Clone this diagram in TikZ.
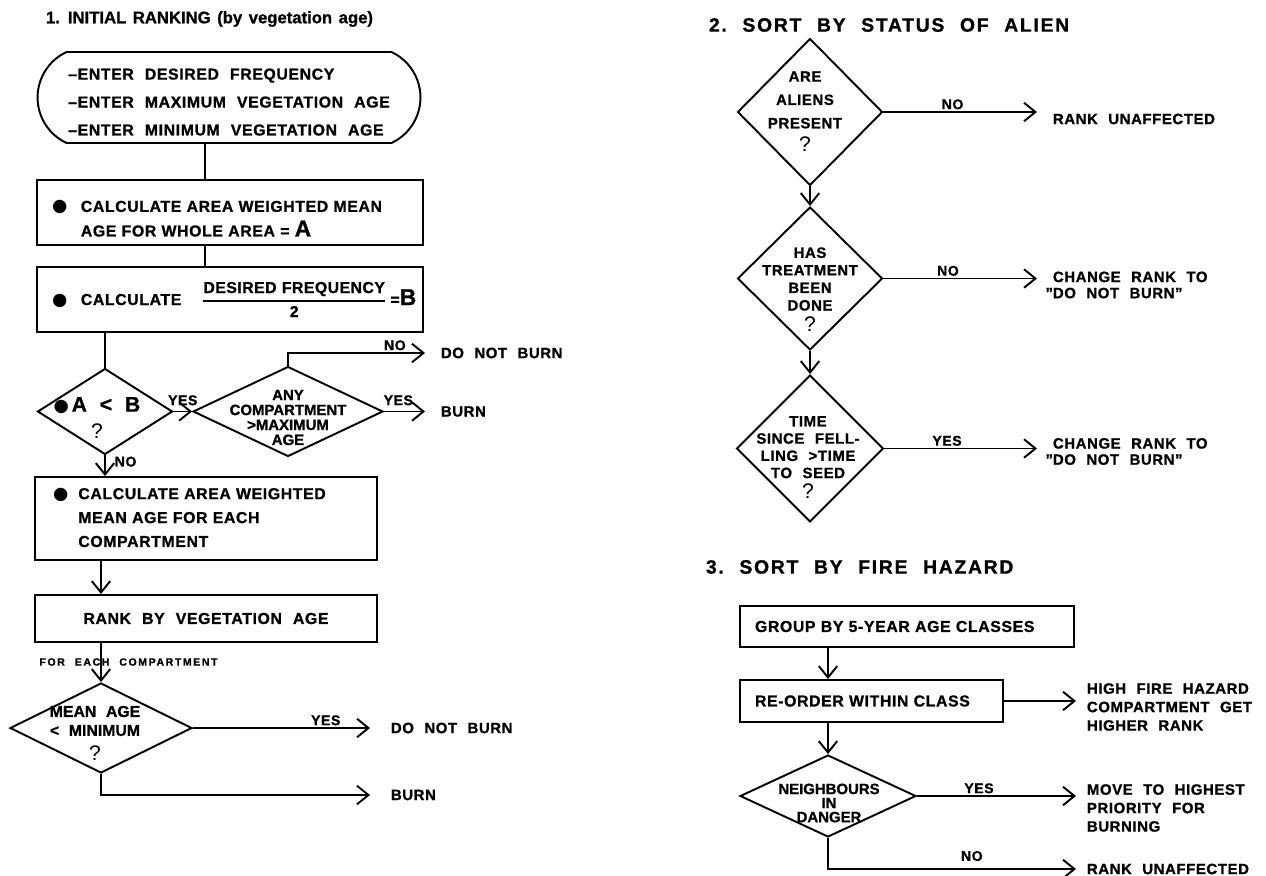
\documentclass[tikz,border=0pt]{standalone}
\usepackage{amsmath}
\usepackage{fontspec}
\setmainfont{Liberation Sans Bold}[LetterSpace=4,WordSpace=2.2,FakeBold=1]
\newfontfamily\headfont{Liberation Sans Bold}[LetterSpace=0,WordSpace=1.4,FakeBold=1]
\newfontfamily\thinfont{Liberation Sans}
\newfontfamily\symfont{DejaVu Sans}
\usetikzlibrary{arrows.meta, shapes.geometric, shapes.misc, positioning}
\newcommand{\blob}{{\symfont\fontsize{10}{10}\selectfont ●}}
\newcommand{\qmark}{{\thinfont\fontsize{12}{12}\selectfont ?}}

\begin{document}
\begin{tikzpicture}[x=0.02cm, y=-0.02cm, line width=1.1pt,
  every node/.style={font=\fontsize{9}{12.5}\selectfont},
  title/.style={anchor=west, inner sep=0pt,
    font=\fontsize{11}{13}\selectfont\addfontfeature{LetterSpace=9}},
  procbox/.style={draw, rectangle, inner xsep=0.3cm, inner ysep=0pt, align=left},
  startbox/.style={draw, rounded rectangle, rounded rectangle arc length=130,
    align=left, inner sep=0pt},
  decision/.style={draw, diamond, inner sep=0pt},
  qtext/.style={align=center, inner sep=0pt},
  lbl/.style={inner sep=1pt, font=\fontsize{8}{9}\selectfont},
  outtxt/.style={anchor=west, align=left, inner xsep=#1, inner ysep=0pt,
    font=\fontsize{8.5}{10.5}\selectfont},
  outtxt/.default=0.3cm,
  arr/.style={-{Straight Barb[length=6.5pt, width=10.5pt]}}
]
  \useasboundingbox (0,0) rectangle (1266,875);

  % 1. initial ranking
  \node[title, font=\headfont\fontsize{9.5}{12}\selectfont]
    (title1) at (45,19) {1. INITIAL\ RANKING (by vegetation age)};

  \node[startbox, minimum width=7.66cm, minimum height=1.82cm,
    font=\fontsize{9}{15.9}\selectfont] (enter) at (229,97.5)
    {\rule{0pt}{11.5pt}--ENTER DESIRED FREQUENCY\\--ENTER MAXIMUM VEGETATION AGE\\--ENTER MINIMUM VEGETATION AGE};
  \node[procbox, text width=7.12cm, minimum height=1.3cm,
    font=\fontsize{9}{14}\selectfont] (calcA) at (230,212.5)
    {\rule{0pt}{14.5pt}\blob\hspace{0.27cm}CALCULATE AREA WEIGHTED MEAN\\
     \phantom{\blob\hspace{0.27cm}}AGE FOR WHOLE AREA = {\fontsize{13}{13}\selectfont A}};
  \node[procbox, text width=7.12cm, minimum height=1.3cm] (calcB) at (230,299.5)
    {\mbox{\blob\hspace{0.27cm}CALCULATE\hspace{0.4cm}$\genfrac{}{}{0.8pt}{0}{\text{\addfontfeature{LetterSpace=3}DESIRED FREQUENCY}}{\text{2}}$%
     \hspace{2pt}{\fontsize{9}{9}\selectfont =}{\fontsize{13}{13}\selectfont B}}};

  \node[decision, minimum width=2.7cm, minimum height=1.72cm] (abtest) at (105,411.5) {};
  \node[qtext] (abtest-q) at (97,418)
    {\blob\,{\fontsize{12}{12}\selectfont\addfontfeature{LetterSpace=0}A\ <\ B}\\[3pt]\qmark};
  \node[decision, minimum width=3.8cm, minimum height=1.8cm] (maxtest) at (288,411.5) {};
  \node[qtext, font=\fontsize{8.5}{8.5}\selectfont\addfontfeature{LetterSpace=0}]
    (maxtest-q) at (288,417.5) {ANY\\COMPARTMENT\\>MAXIMUM\\AGE};
  \node[outtxt] (noburnA) at (425,353) {DO NOT BURN};
  \node[outtxt] (burnA) at (425,411.5) {BURN};

  \node[procbox, inner xsep=0.36cm, text width=6.12cm, minimum height=1.66cm,
    font=\fontsize{9}{13.6}\selectfont] (calcC) at (206,518.5)
    {\blob\hspace{0.2cm}CALCULATE AREA WEIGHTED\\
     \phantom{\blob\hspace{0.2cm}}MEAN AGE FOR EACH\\
     \phantom{\blob\hspace{0.2cm}}COMPARTMENT};
  \node[procbox, align=center, minimum width=6.84cm, minimum height=0.94cm]
    (rankveg) at (206,618.5) {RANK BY VEGETATION AGE};
  \node[inner sep=0pt, font=\fontsize{6}{6}\selectfont\addfontfeature{LetterSpace=15}]
    (each) at (128.5,662) {FOR EACH COMPARTMENT};

  \node[decision, minimum width=3.64cm, minimum height=1.8cm] (minage) at (101,728) {};
  \node[qtext, font=\fontsize{9}{10.8}\selectfont\addfontfeature{LetterSpace=0}]
    (minage-q) at (95,733) {MEAN AGE\\<\ MINIMUM\\[3pt]\qmark};
  \node[outtxt=0.4cm] (noburnB) at (370,728) {DO NOT BURN};
  \node[outtxt=0.4cm] (burnB) at (370,795) {BURN};

  \draw ([xshift=-0.48cm]enter.south) -- ([xshift=-0.48cm]enter.south |- calcA.north);
  \draw ([xshift=-0.5cm]calcA.south) -- ([xshift=-0.5cm]calcA.south |- calcB.north);
  \draw (calcB.south -| abtest.north) -- (abtest.north);
  \draw[arr] (abtest.east) -- node[lbl, above=2pt] {YES} (maxtest.west);
  \draw[arr] (maxtest.north) |- node[lbl, above, pos=0.89] {NO} (noburnA.west);
  \draw[arr] (maxtest.east) -- node[lbl, above=2pt, pos=0.35] {YES} (maxtest.east -| burnA.west);
  \draw[arr] (abtest.south) -- node[lbl, right=4pt, pos=0.3] {NO} (abtest.south |- calcC.north);
  \draw[arr] (calcC.south -| minage.north) -- (rankveg.north -| minage.north);
  \draw[arr] (rankveg.south -| minage.north) -- (minage.north);
  \draw[arr] (minage.east) -- node[lbl, above, pos=0.75] {YES} (minage.east -| noburnB.west);
  \draw[arr] (minage.south) |- (burnB.west);

  % 2. sort by status of alien
  \node[title] (title2) at (708,25) {2.\ SORT BY STATUS OF ALIEN};

  \node[decision, minimum width=2.9cm, minimum height=2.94cm] (aliens) at (810,112) {};
  \node[qtext, font=\fontsize{8.5}{13.3}\selectfont] (aliens-q) at (805,111.5)
    {ARE\\ALIENS\\PRESENT\\\qmark};
  \node[decision, minimum width=2.9cm, minimum height=2.86cm] (treated) at (810,278.5) {};
  \node[qtext, font=\fontsize{8.5}{10}\selectfont] (treated-q) at (810,289.5)
    {HAS\\TREATMENT\\BEEN\\DONE\\[2pt]\qmark};
  \node[decision, minimum width=2.94cm, minimum height=2.94cm] (seedtime) at (810,448.5) {};
  \node[qtext, font=\fontsize{8.5}{9.8}\selectfont] (seedtime-q) at (808,457.5)
    {TIME\\SINCE FELL-\\LING >TIME\\TO SEED\\[2pt]\qmark};

  \node[outtxt] (unaffA) at (1037,119) {RANK UNAFFECTED};
  \node[outtxt, font=\fontsize{8.5}{9.2}\selectfont] (changeA) at (1037,285)
    {CHANGE RANK TO\\\llap{”}DO NOT BURN”};
  \node[outtxt, font=\fontsize{8.5}{9.2}\selectfont] (changeB) at (1037,451.5)
    {CHANGE RANK TO\\\llap{”}DO NOT BURN”};

  \draw[arr] (aliens.south) -- (treated.north);
  \draw[arr] (treated.south) -- (seedtime.north);
  \draw[arr] (aliens.east) -- node[lbl, above, pos=0.45] {NO} (aliens.east -| unaffA.west);
  \draw[arr] (treated.east) -- node[lbl, above, pos=0.42] {NO} (treated.east -| changeA.west);
  \draw[arr] (seedtime.east) -- node[lbl, above, pos=0.41] {YES} (seedtime.east -| changeB.west);

  % 3. sort by fire hazard
  \node[title] (title3) at (705,567) {3.\ SORT BY FIRE HAZARD};

  \node[procbox, text width=6.08cm, minimum height=0.82cm] (groupage) at (907,626.5)
    {GROUP BY 5-YEAR AGE CLASSES};
  \node[procbox, text width=4.66cm, minimum height=0.84cm] (reorder) at (871.5,701)
    {RE-ORDER WITHIN CLASS};
  \node[decision, minimum width=3.52cm, minimum height=1.64cm] (neigh) at (828,796) {};
  \node[qtext, font=\fontsize{8.5}{8}\selectfont\addfontfeature{LetterSpace=0}]
    (neigh-q) at (829,803) {NEIGHBOURS\\IN\\DANGER};

  \node[outtxt=0.2cm] (hazard) at (1076,707) {HIGH FIRE HAZARD\\COMPARTMENT GET\\HIGHER RANK};
  \node[outtxt=0.2cm] (movetop) at (1076,808) {MOVE TO HIGHEST\\PRIORITY FOR\\BURNING};
  \node[outtxt=0.2cm] (unaffB) at (1076,869) {RANK UNAFFECTED};

  \draw[arr] (groupage.south -| neigh.north) -- (reorder.north -| neigh.north);
  \draw[arr] (reorder.east) -- (reorder.east -| hazard.west);
  \draw[arr] (reorder.south -| neigh.north) -- (neigh.north);
  \draw[arr] (neigh.east) -- node[lbl, above, pos=0.39] {YES} (neigh.east -| movetop.west);
  \draw[arr] (neigh.south) |- node[lbl, above=3pt, pos=0.79] {NO} (unaffB.west);
\end{tikzpicture}
\end{document}
